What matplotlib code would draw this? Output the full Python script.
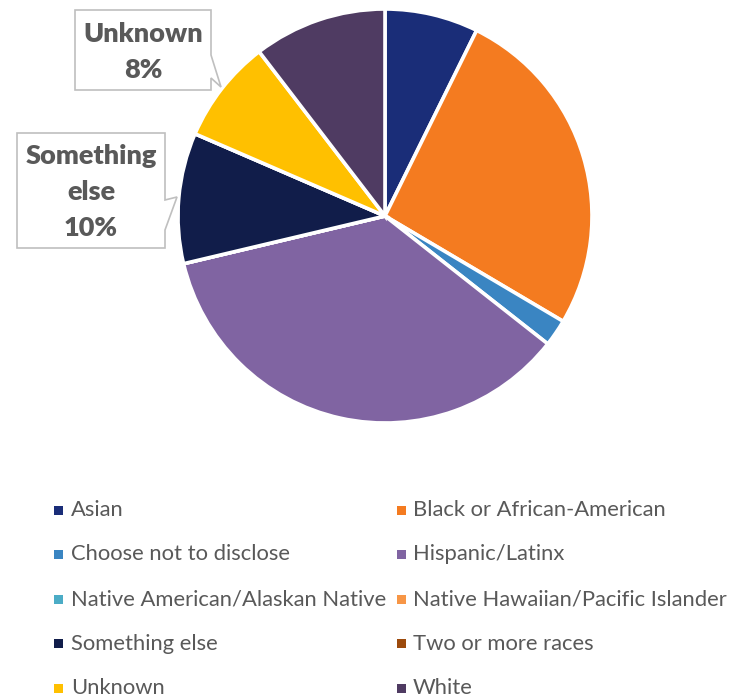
import matplotlib
matplotlib.use("Agg")
import matplotlib.pyplot as plt
from matplotlib.patches import Polygon, Rectangle

# Share of respondents by race / ethnicity (percent)
categories = [
    "Asian",
    "Black or African-American",
    "Choose not to disclose",
    "Hispanic/Latinx",
    "Native American/Alaskan Native",
    "Native Hawaiian/Pacific Islander",
    "Something else",
    "Two or more races",
    "Unknown",
    "White",
]
values = [7.3, 26.2, 2.1, 35.7, 0.0, 0.0, 10.2, 0.0, 8.1, 10.4]
colors = [
    "#1A2D78", "#F47B20", "#3A85C2", "#8064A2", "#4BACC6",
    "#F79646", "#111D4A", "#9C4A0C", "#FFC000", "#4F3B62",
]

W, H = 743, 700
DPI = 100
fig = plt.figure(figsize=(W / DPI, H / DPI), dpi=DPI)
fig.patch.set_facecolor("white")

plt.rcParams["font.family"] = ["Lato", "DejaVu Sans"]
TEXT = "#595959"


def fx(x):
    return x / W


def fy(y):
    return 1 - y / H


# Pie axes: centre (385, 216) px, radius 207 px
cx, cy, r = 385, 216, 207
ax = fig.add_axes([fx(cx - r), fy(cy + r), 2 * r / W, 2 * r / H])
wedges, _ = ax.pie(
    values,
    colors=colors,
    startangle=90,
    counterclock=False,
    radius=1.0,
    wedgeprops=dict(edgecolor="white", linewidth=2.6, joinstyle="miter"),
)
ax.set_xlim(-1, 1)
ax.set_ylim(-1, 1)
ax.set_aspect("auto")
ax.axis("off")

total = sum(values)


def callout(box, tip, base_y, lines_y, label, pct):
    x0, y0, x1, y1 = box
    pts = [(x0, y0), (x1, y0), (x1, base_y[0]), tip, (x1, base_y[1]),
           (x1, y1), (x0, y1)]
    poly = Polygon([(fx(x), fy(y)) for x, y in pts], closed=True,
                   transform=fig.transFigure, facecolor="white",
                   edgecolor="#BFBFBF", linewidth=1.2, zorder=5)
    fig.patches.append(poly)
    words = label.split(" ")
    if len(words) > 1:
        text_lines = words + [pct]
    else:
        text_lines = [label, pct]
    xm = (x0 + x1) / 2
    for t, yy in zip(text_lines, lines_y):
        fig.text(fx(xm), fy(yy), t, ha="center", va="center",
                 fontsize=19.5, fontweight="heavy", color=TEXT, zorder=6,
                 family=["Lato", "DejaVu Sans"])


i_unk = categories.index("Unknown")
i_se = categories.index("Something else")
callout((75, 10, 211, 90), (221, 87), (55, 78), [34, 70],
        categories[i_unk], f"{values[i_unk] / total * 100:.0f}%")
callout((17, 133, 165, 248), (177, 197), (200, 230), [156, 192, 228],
        categories[i_se], f"{values[i_se] / total * 100:.0f}%")

# Legend: two columns, filled row by row
col_marker_x = [54, 397]
col_text_x = [71, 413]
row_y0, row_dy = 510, 44.5
sq = 9
for k, (name, col) in enumerate(zip(categories, colors)):
    row, c = divmod(k, 2)
    y = row_y0 + row * row_dy
    fig.patches.append(Rectangle((fx(col_marker_x[c]), fy(y + sq / 2)),
                                 sq / W, sq / H, transform=fig.transFigure,
                                 facecolor=col, edgecolor="none"))
    fig.text(fx(col_text_x[c]), fy(y), name, ha="left", va="center",
             fontsize=15.8, color=TEXT, family=["Lato", "DejaVu Sans"])

fig.savefig("out.png", dpi=DPI, facecolor="white")
